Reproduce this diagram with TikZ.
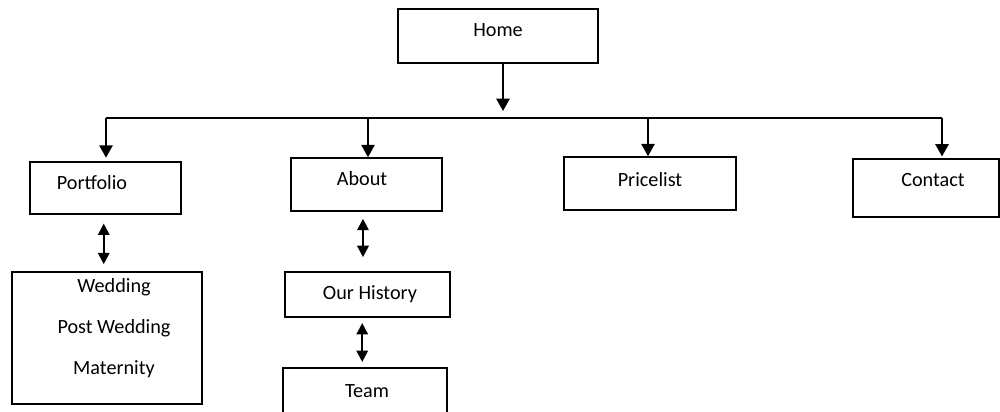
\documentclass[tikz,border=0pt]{standalone}
\usepackage{fontspec}
\setmainfont{Carlito}
\usetikzlibrary{arrows.meta}
\begin{document}
\begin{tikzpicture}[x=0.02cm,y=-0.02cm,line width=0.9pt,
    box/.style={draw,rectangle,inner sep=0pt},
    txt/.style={inner sep=0pt,font=\fontsize{11.5}{14}\selectfont},
    arr/.style={-{Triangle[width=7.5pt,length=7pt]},line width=1.2pt},
    dbl/.style={{Triangle[width=6.5pt,length=6.5pt]}-{Triangle[width=6.5pt,length=6.5pt]},line width=1.2pt}]
    \useasboundingbox (0,0) rectangle (1000,412);
    % boxes
    \node[box,minimum width=4cm,minimum height=1.08cm] (home) at (498,36) {};
    \node[box,minimum width=3.02cm,minimum height=1.04cm] (portfolio) at (105.5,188) {};
    \node[box,minimum width=3.02cm,minimum height=1.06cm] (about) at (366.5,184.5) {};
    \node[box,minimum width=3.44cm,minimum height=1.06cm] (pricelist) at (650,183.5) {};
    \node[box,minimum width=2.92cm,minimum height=1.16cm] (contact) at (926,188) {};
    \node[box,minimum width=3.8cm,minimum height=2.64cm] (gallery) at (107,338) {};
    \node[box,minimum width=3.3cm,minimum height=0.9cm] (history) at (367.5,294.5) {};
    \node[box,minimum width=3.28cm,minimum height=1.14cm] (team) at (365,396.5) {};
    % texts
    \node[txt] (t-home) at (498,30) {Home};
    \node[txt] (t-portfolio) at (92,183) {Portfolio};
    \node[txt] (t-about) at (362,179) {About};
    \node[txt] (t-pricelist) at (650,180) {Pricelist};
    \node[txt] (t-contact) at (933,180) {Contact};
    \node[txt,align=center,font=\fontsize{11.5}{23.5}\selectfont] (t-gallery) at (114,328) {Wedding\\Post Wedding\\Maternity};
    \node[txt] (t-history) at (370,294) {Our History};
    \node[txt] (t-team) at (367,391) {Team};
    % bus
    \coordinate (hometip) at (503,111);
    \coordinate (busL) at (106,118);
    \coordinate (busA) at (368,118);
    \coordinate (busP) at (648,118);
    \coordinate (busR) at (942,118);
    \draw[arr] (home.south -| hometip) -- (hometip);
    \draw (busL) -- (busR);
    \draw[arr] (busL) -- ([yshift=2pt]portfolio.north -| busL);
    \draw[arr] (busA) -- (about.north -| busA);
    \draw[arr] (busP) -- (pricelist.north -| busP);
    \draw[arr] (busR) -- ([yshift=1pt]contact.north -| busR);
    % sub pages
    \draw[dbl,shorten <=5pt,shorten >=4pt] ([xshift=-1pt]portfolio.south) -- ([xshift=-1pt]portfolio.south |- gallery.north);
    \draw[dbl,shorten <=4pt,shorten >=8pt] ([xshift=-2pt]about.south) -- ([xshift=-2pt]about.south |- history.north);
    \draw[dbl,shorten <=3pt,shorten >=3pt] ([xshift=-3pt]history.south) -- ([xshift=-3pt]history.south |- team.north);
\end{tikzpicture}
\end{document}
